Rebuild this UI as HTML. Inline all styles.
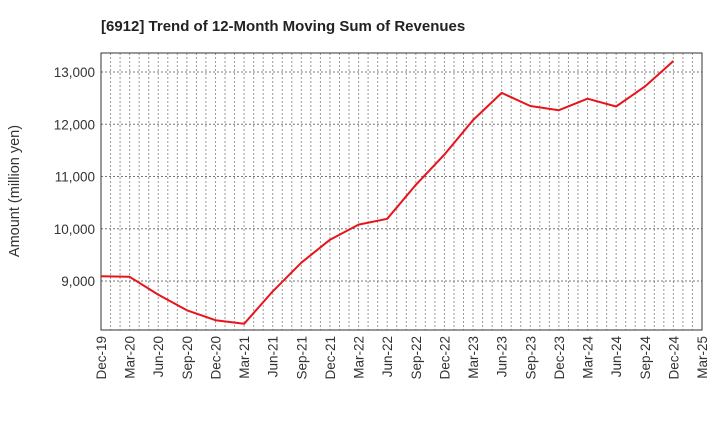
<!DOCTYPE html>
<html><head><meta charset="utf-8"><style>
body{margin:0;background:#fff;}
svg text{font-family:"Liberation Sans",sans-serif;}
</style></head><body>
<svg id="chart" width="720" height="440" xmlns="http://www.w3.org/2000/svg">
<text x="101" y="31" font-size="15" font-weight="bold" fill="#222">[6912]  Trend of 12-Month Moving Sum of Revenues</text>
<g id="grid"></g>
<g id="yaxis"></g>
<g id="xaxis"></g>
<text transform="translate(19,191) rotate(-90)" text-anchor="middle" font-size="14.5" fill="#333">Amount (million yen)</text>
<rect x="101" y="53" width="601" height="277" fill="none" stroke="#333" stroke-width="1"/>
<g id="series"></g>
</svg>
<script>
const xLabels=["Dec-19","Mar-20","Jun-20","Sep-20","Dec-20","Mar-21","Jun-21","Sep-21","Dec-21","Mar-22","Jun-22","Sep-22","Dec-22","Mar-23","Jun-23","Sep-23","Dec-23","Mar-24","Jun-24","Sep-24","Dec-24","Mar-25"];
const revenues=[9090,9080,8740,8440,8250,8180,8800,9350,9790,10080,10190,10840,11420,12080,12600,12350,12270,12490,12340,12720,13210];
const yTicks=[9000,10000,11000,12000,13000];
const yTickLabels=["9,000","10,000","11,000","12,000","13,000"];
const NS="http://www.w3.org/2000/svg";
const L=101,R=702,T=53,B=330,yMin=8062,yMax=13364;
const xs=i=>L+(R-L)*i/(xLabels.length-1);
const ys=v=>B-(v-yMin)/(yMax-yMin)*(B-T);
function mk(tag,attrs,parent){const e=document.createElementNS(NS,tag);for(const k in attrs)e.setAttribute(k,attrs[k]);parent.appendChild(e);return e;}
const grid=document.getElementById('grid'),ya=document.getElementById('yaxis'),xa=document.getElementById('xaxis'),se=document.getElementById('series');
const nMonths=(xLabels.length-1)*3;
for(let m=1;m<nMonths;m++){const x=L+(R-L)*m/nMonths;const g=mk('line',{x1:x,x2:x,y1:T,y2:B,stroke:'#999','stroke-width':1,'stroke-dasharray':'2,2'},grid);

}
yTicks.forEach((v,i)=>{const y=ys(v);
const g=mk('line',{x1:L,x2:R,y1:y,y2:y,stroke:'#777','stroke-width':1,'stroke-dasharray':'2,2'},grid);


const t=mk('text',{x:L-6,y:y+5,'text-anchor':'end','font-size':13.5,fill:'#333'},ya);t.textContent=yTickLabels[i];

});
xLabels.forEach((s,i)=>{const x=xs(i);
const t=mk('text',{transform:`translate(${x+5},${B+6}) rotate(-90)`,'text-anchor':'end','font-size':13.5,fill:'#333'},xa);t.textContent=s;

});
const pts=revenues.map((v,i)=>xs(i).toFixed(1)+','+ys(v).toFixed(1)).join(' ');
const p=mk('polyline',{points:pts,fill:'none',stroke:'#e8141b','stroke-width':2,'stroke-linejoin':'round'},se);


</script>
</body></html>
